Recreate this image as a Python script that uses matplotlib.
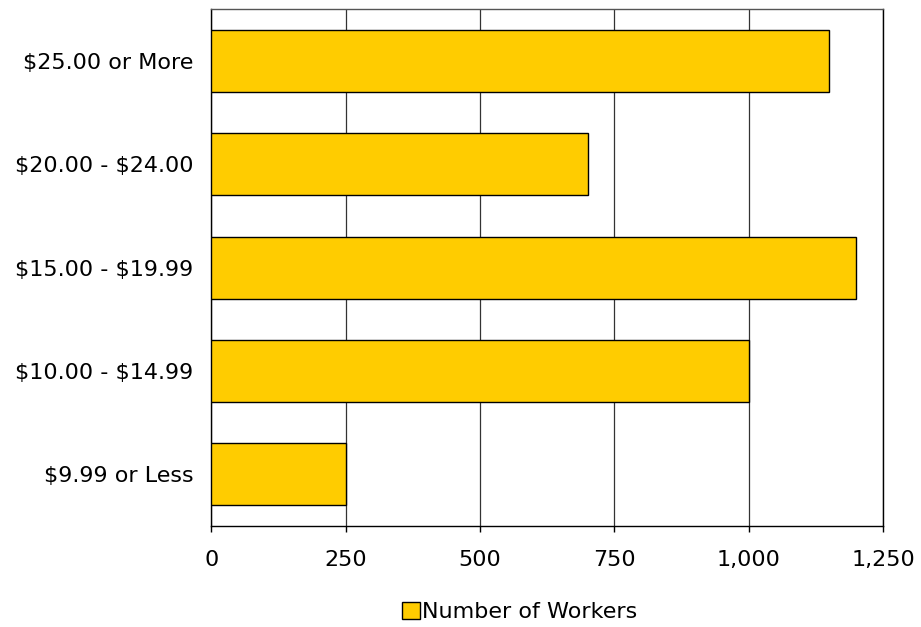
import matplotlib.pyplot as plt
from matplotlib.ticker import FuncFormatter

plt.rcParams['text.parse_math'] = False

# wage ranges, bottom to top as drawn
categories = ['$9.99 or Less', '$10.00 - $14.99', '$15.00 - $19.99',
              '$20.00 - $24.00', '$25.00 or More']
workers = [250, 1000, 1200, 700, 1150]
x_ticks = [0, 250, 500, 750, 1000, 1250]

fig = plt.figure(figsize=(9.21, 6.27), dpi=100)
ax = fig.add_axes([0.2295, 0.161, 0.7295, 0.8245])

ax.barh(range(len(categories)), workers, height=0.6, color='#FFCC00',
        edgecolor='black', linewidth=1.0, label='Number of Workers', zorder=3)

ax.set_xlim(0, 1250)
ax.set_ylim(-0.5, len(categories) - 0.5)
ax.set_xticks(x_ticks)
ax.xaxis.set_major_formatter(FuncFormatter(lambda v, p: f'{int(v):,}'))
ax.set_yticks(range(len(categories)))
ax.set_yticklabels(categories)

ax.grid(axis='x', color='#333333', linewidth=0.9, zorder=0)
ax.tick_params(axis='y', length=0, pad=13, labelsize=16)
ax.tick_params(axis='x', length=4, width=1, direction='out', pad=13, labelsize=16)

for side in ['top', 'right', 'left', 'bottom']:
    ax.spines[side].set_color('black')
    ax.spines[side].set_linewidth(1.0)
ax.spines['top'].set_color('#555555')

fig.legend(loc='center', bbox_to_anchor=(0.5646, 0.024), frameon=False,
           fontsize=16, handlelength=0.8, handleheight=0.8, handletextpad=0.1)

fig.savefig('out.png', dpi=100)
